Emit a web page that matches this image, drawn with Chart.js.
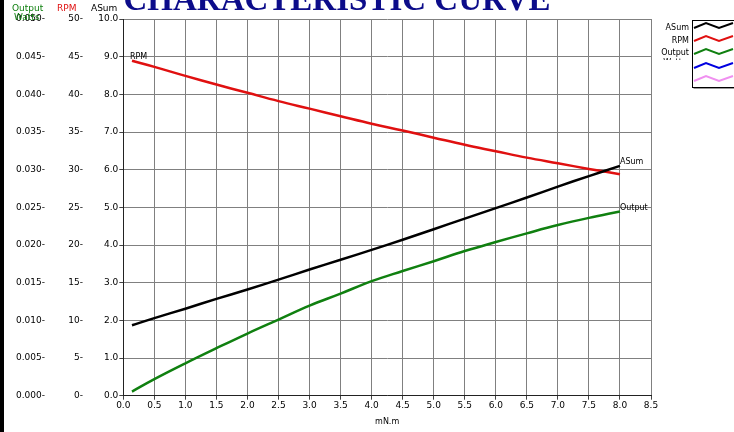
<!DOCTYPE html>
<html><head><meta charset="utf-8">
<script src="https://cdn.jsdelivr.net/npm/chart.js@4.4.1/dist/chart.umd.min.js"></script>
<style>html,body{margin:0;padding:0;background:#fff;overflow:hidden}#w{width:734px;height:432px;position:relative}</style>
</head><body><div id="w"><canvas id="c"></canvas></div>
<script>
const torque = [0.14, 0.5, 1.0, 1.5, 2.0, 2.5, 3.0, 3.5, 4.0, 4.5, 5.0, 5.5, 6.0, 6.5, 7.0, 7.5, 8.0];
const asum   = [1.87, 2.06, 2.31, 2.57, 2.82, 3.08, 3.35, 3.61, 3.87, 4.14, 4.42, 4.70, 4.98, 5.26, 5.55, 5.83, 6.10];
const rpm    = [44.45, 43.65, 42.45, 41.3, 40.2, 39.1, 38.1, 37.1, 36.1, 35.2, 34.25, 33.3, 32.45, 31.6, 30.85, 30.1, 29.4];
const watts  = [0.00055, 0.0022, 0.0043, 0.0063, 0.00825, 0.0101, 0.01195, 0.01355, 0.0152, 0.01655, 0.01785, 0.0192, 0.0204, 0.02155, 0.02265, 0.0236, 0.02445];
const titleText = 'CHARACTERISTIC CURVE';
const xTitle = 'mN.m';
const legendNames = ['ASum', 'RPM', 'Output', 'Watts'];
const legendColors = ['#000000', '#e01010', '#108010', '#0000e0', '#f090f0'];

const FONT = '"DejaVu Sans", Verdana, sans-serif';
const pts = (ys) => torque.map((x, i) => ({x, y: ys[i]}));

const overlay = {
  id: 'overlay',
  afterDraw(chart) {
    const ctx = chart.ctx;
    const xs = chart.scales.x, ya = chart.scales.y, yr = chart.scales.yRpm, yo = chart.scales.yOut;
    ctx.save();
    ctx.fillStyle = '#000';
    ctx.fillRect(0, 0, 4, 432);
    ctx.font = 'bold 33px "Liberation Serif", "Times New Roman", serif';
    ctx.fillStyle = '#0c0c8a';
    ctx.textAlign = 'center';
    ctx.textBaseline = 'alphabetic';
    ctx.fillText(titleText, 337, 10);
    ctx.font = '9px ' + FONT;
    ctx.textBaseline = 'middle';
    ctx.textAlign = 'left';
    ctx.fillStyle = '#108010';
    ctx.fillText('Output', 12, 9);
    ctx.fillText('Watts', 14, 18);
    ctx.fillStyle = '#e01010';
    ctx.fillText('RPM', 57, 9);
    ctx.fillStyle = '#000';
    ctx.fillText('ASum', 91, 9);
    ctx.font = '8px ' + FONT;
    ctx.textBaseline = 'alphabetic';
    const n = torque.length - 1;
    ctx.fillText('RPM', xs.getPixelForValue(torque[0]) - 2, yr.getPixelForValue(rpm[0]) - 2);
    ctx.fillText('ASum', xs.getPixelForValue(torque[n]), ya.getPixelForValue(asum[n]) - 2);
    ctx.fillText('Output', xs.getPixelForValue(torque[n]), yo.getPixelForValue(watts[n]) - 1);
    ctx.strokeStyle = '#000';
    ctx.lineWidth = 1;
    ctx.strokeRect(692.5, 20.5, 50, 67);
    ctx.strokeStyle = '#999';
    ctx.beginPath(); ctx.moveTo(693.5, 88.5); ctx.lineTo(734, 88.5); ctx.stroke();
    const rows = [26, 39, 52, 66, 79];
    legendColors.forEach((c, i) => {
      const y = rows[i];
      ctx.strokeStyle = c;
      ctx.lineWidth = 2;
      ctx.beginPath();
      ctx.moveTo(694, y + 2);
      ctx.lineTo(706, y - 3);
      ctx.lineTo(719, y + 2);
      ctx.lineTo(733, y - 3);
      ctx.stroke();
    });
    ctx.font = '8px ' + FONT;
    ctx.fillStyle = '#000';
    ctx.textAlign = 'right';
    ctx.textBaseline = 'middle';
    ctx.fillText(legendNames[0], 689, 28);
    ctx.fillText(legendNames[1], 689, 41);
    ctx.fillText(legendNames[2], 689, 53);
    ctx.save();
    ctx.beginPath(); ctx.rect(640, 0, 60, 60); ctx.clip();
    ctx.fillText(legendNames[3], 686, 63);
    ctx.restore();
    ctx.restore();
  }
};

new Chart(document.getElementById('c'), {
  type: 'line',
  data: {
    datasets: [
      {label: 'ASum', data: pts(asum), yAxisID: 'y', borderColor: '#000000', borderWidth: 2.5},
      {label: 'RPM', data: pts(rpm), yAxisID: 'yRpm', borderColor: '#e01010', borderWidth: 2.5},
      {label: 'Output Watts', data: pts(watts), yAxisID: 'yOut', borderColor: '#108010', borderWidth: 2.5}
    ]
  },
  options: {
    responsive: true,
    maintainAspectRatio: false,
    animation: false,
    devicePixelRatio: 1,
    layout: {padding: {left: 0, right: 83, top: 19, bottom: 0}},
    elements: {point: {radius: 0}, line: {tension: 0.4}},
    plugins: {legend: {display: false}, tooltip: {enabled: false}, title: {display: false}},
    scales: {
      x: {
        type: 'linear', min: 0, max: 8.5,
        afterFit: (s) => { s.height = 36.3; },
        ticks: {stepSize: 0.5, font: {family: FONT, size: 9}, color: '#000', padding: 1,
          callback: (v) => v.toFixed(1), maxRotation: 0, autoSkip: false},
        grid: {color: '#808080', lineWidth: 1, tickLength: 4, tickColor: '#444'},
        border: {color: '#222', width: 1},
        title: {display: true, text: xTitle, font: {family: FONT, size: 8}, color: '#000', padding: {top: 2, bottom: 5}}
      },
      y: {
        type: 'linear', position: 'left', min: 0, max: 10, weight: 0,
        afterFit: (s) => { s.width = 36.3; },
        ticks: {stepSize: 1, font: {family: FONT, size: 9}, color: '#000', padding: 1,
          callback: (v) => v.toFixed(1)},
        grid: {color: '#808080', lineWidth: 1, tickLength: 4, tickColor: '#444'},
        border: {color: '#222', width: 1}
      },
      yRpm: {
        type: 'linear', position: 'left', min: 0, max: 50, weight: 1,
        afterFit: (s) => { s.width = 39; },
        ticks: {stepSize: 5, font: {family: FONT, size: 9}, color: '#000', padding: 4,
          callback: (v) => Math.round(v) + '-'},
        grid: {display: false, drawTicks: false},
        border: {display: false}
      },
      yOut: {
        type: 'linear', position: 'left', min: 0, max: 0.05, weight: 2,
        afterFit: (s) => { s.width = 48; },
        ticks: {stepSize: 0.005, font: {family: FONT, size: 9}, color: '#000', padding: 3,
          callback: (v) => v.toFixed(3) + '-'},
        grid: {display: false, drawTicks: false},
        border: {display: false}
      }
    }
  },
  plugins: [overlay]
});
</script>
</body></html>
